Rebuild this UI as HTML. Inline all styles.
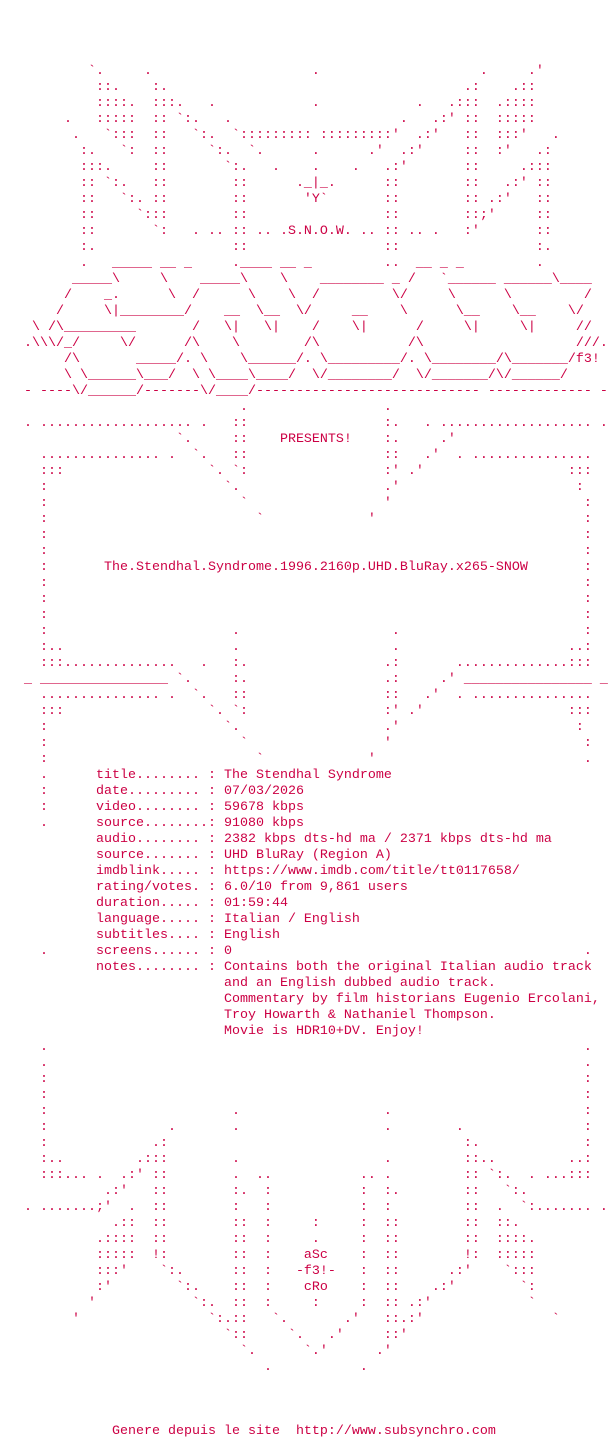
<!DOCTYPE html>
<html><head><meta charset="utf-8"><style>
html,body{margin:0;padding:0;background:#fff;width:608px;height:1440px;overflow:hidden}
pre{margin:0;padding:64px 0 0 24px;font-family:"Liberation Mono","DejaVu Sans Mono",monospace;font-size:13.333px;line-height:16px;color:#cc0044;white-space:pre}
</style></head><body><pre>        `.     .                    .                    .     .'
         ::.    :.                                     .:    .::
         ::::.  :::.   .            .            .   .:::  .::::
     .   :::::  :: `:.   .                     .   .:' ::  :::::
      .   `:::  ::   `:.  `::::::::: :::::::::'  .:'   ::  :::'   .
       :.   `:  ::     `:.  `.      .      .'  .:'     ::  :'   .:
       :::.     ::       `:.   .    .    .   .:'       ::     .:::
       :: `:.   ::        ::      ._|_.      ::        ::   .:' ::
       ::   `:. ::        ::       'Y`       ::        :: .:'   ::
       ::     `:::        ::                 ::        ::;'     ::
       ::       `:   . .. :: .. .S.N.O.W. .. :: .. .   :'       ::
       :.                 ::                 ::                 :.
       .   _____ __ _     .____ __ _         ..  __ _ _         .
      _____\     \    _____\    \    ________ _ /   `______ ______\____
     /    _.      \  /      \    \  /         \/     \      \         /
    /     \|________/    __  \__  \/     __    \      \__    \__    \/
 \ /\_________       /   \|   \|    /    \|      /     \|     \|     //
.\\\/_/     \/      /\    \        /\           /\                   ///.
     /\       _____/. \    \______/. \_________/. \________/\_______/f3!
     \ \______\___/  \ \____\____/  \/________/  \/_______/\/______/
- ----\/______/-------\/____/---------------------------- ------------- -
                           .                 .
. ................... .   ::                 :.   . ................... .
                   `.     ::    PRESENTS!    :.     .'
  ............... .  `.   ::                 ::   .'  . ...............
  :::                  `. `:                 :' .'                  :::
  :                      `.                  .'                      :
  :                        `                 '                        :
  :                          `             '                          :
  :                                                                   :
  :                                                                   :
  :       The.Stendhal.Syndrome.1996.2160p.UHD.BluRay.x265-SNOW       :
  :                                                                   :
  :                                                                   :
  :                                                                   :
  :                       .                   .                       :
  :..                     .                   .                     ..:
  :::..............   .   :.                 .:       ..............:::
_ ________________ `.     :.                 .:     .' ________________ _
  ............... .  `.   ::                 ::   .'  . ...............
  :::                  `. `:                 :' .'                  :::
  :                      `.                  .'                      :
  :                        `                 '                        :
  :                          `             '                          .
  .      title........ : The Stendhal Syndrome
  :      date......... : 07/03/2026
  :      video........ : 59678 kbps
  .      source........: 91080 kbps
         audio........ : 2382 kbps dts-hd ma / 2371 kbps dts-hd ma
         source....... : UHD BluRay (Region A)
         imdblink..... : https://www.imdb.com/title/tt0117658/
         rating/votes. : 6.0/10 from 9,861 users
         duration..... : 01:59:44
         language..... : Italian / English
         subtitles.... : English
  .      screens...... : 0                                            .
         notes........ : Contains both the original Italian audio track
                         and an English dubbed audio track.
                         Commentary by film historians Eugenio Ercolani,
                         Troy Howarth &amp; Nathaniel Thompson.
                         Movie is HDR10+DV. Enjoy!
  .                                                                   .
  .                                                                   .
  :                                                                   :
  :                                                                   :
  :                       .                  .                        :
  :               .       .                  .        .               :
  :             .:                                     :.             :
  :..         .:::        .                  .         ::..         ..:
  :::... .  .:' ::        .  ..           .. .         :: `:.  . ...:::
          .:'   ::        :.  :           :  :.        ::   `:.
. .......;'  .  ::        :   :           :  :         ::  .  `:....... .
           .::  ::        ::  :     :     :  ::        ::  ::.
         .::::  ::        ::  :     .     :  ::        ::  ::::.
         :::::  !:        ::  :    aSc    :  ::        !:  :::::
         :::'    `:.      ::  :   -f3!-   :  ::      .:'    `:::
         :'        `:.    ::  :    cRo    :  ::    .:'        `:
        '            `:.  ::  :     :     :  :: .:'            `
      '                `:.::   `.       .'   ::.:'                `
                         `::     `.   .'     ::'
                           `.      `.'      .'
                              .           .



           Genere depuis le site  http://www.subsynchro.com
</pre></body></html>
